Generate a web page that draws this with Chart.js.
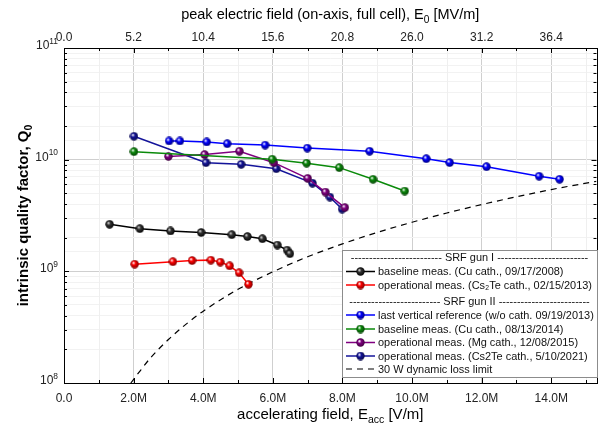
<!DOCTYPE html>
<html>
<head>
<meta charset="utf-8">
<script src="https://cdn.jsdelivr.net/npm/chart.js@4.4.1/dist/chart.umd.min.js"></script>
<style>
  html, body { margin: 0; padding: 0; background: #fff; }
  #wrap { width: 602px; height: 433px; }
</style>
</head>
<body>
<div id="wrap"><canvas id="q0-chart"></canvas></div>
<script>
// accelerating field in MV/m (axis shows it as "M" V/m), Q0
const gun1BaseE = [1.31, 2.18, 3.06, 3.94, 4.82, 5.27, 5.70, 6.13, 6.41, 6.49];
const gun1BaseQ = [2.64e9, 2.41e9, 2.30e9, 2.23e9, 2.13e9, 2.05e9, 1.96e9, 1.72e9, 1.55e9, 1.44e9];
const gun1OperE = [2.03, 3.13, 3.68, 4.22, 4.49, 4.76, 5.03, 5.30];
const gun1OperQ = [1.16e9, 1.22e9, 1.25e9, 1.26e9, 1.21e9, 1.12e9, 9.7e8, 7.66e8];
const gun2VertE = [3.02, 3.33, 4.10, 4.69, 5.78, 6.99, 8.78, 10.41, 11.08, 12.14, 13.65, 14.24];
const gun2VertQ = [1.47e10, 1.47e10, 1.44e10, 1.39e10, 1.35e10, 1.27e10, 1.19e10, 1.02e10, 9.42e9, 8.65e9, 7.11e9, 6.67e9];
const gun2BaseE = [2.01, 5.98, 6.97, 7.91, 8.88, 9.79];
const gun2BaseQ = [1.18e10, 1.01e10, 9.3e9, 8.48e9, 6.67e9, 5.24e9];
const gun2MgE = [3.00, 4.04, 5.04, 6.03, 7.00, 7.51, 8.07];
const gun2MgQ = [1.07e10, 1.11e10, 1.19e10, 9.4e9, 6.8e9, 5.13e9, 3.72e9];
const gun2CsE = [2.01, 4.08, 5.09, 6.10, 7.14, 7.64, 7.99];
const gun2CsQ = [1.62e10, 9.4e9, 9.08e9, 8.3e9, 6.16e9, 4.62e9, 3.61e9];
const lossLimitE = [1.92, 2.2, 2.5, 3, 3.5, 4, 5, 6, 7, 8, 9, 10, 11, 12, 13, 14, 15.3];
const lossLimitQ = [1.0e8, 1.3e8, 1.7e8, 2.45e8, 3.35e8, 4.4e8, 6.9e8, 9.9e8, 1.35e9, 1.76e9, 2.23e9, 2.75e9, 3.33e9, 3.96e9, 4.65e9, 5.4e9, 6.4e9];

const seriesLabels = [
  "baseline meas. (Cu cath., 09/17/2008)",
  "operational meas. (Cs\u2082Te cath., 02/15/2013)",
  "last vertical reference (w/o cath. 09/19/2013)",
  "baseline meas. (Cu cath., 08/13/2014)",
  "operational meas. (Mg cath., 12/08/2015)",
  "operational meas. (Cs2Te cath., 5/10/2021)",
  "30 W dynamic loss limit",
];
const seriesColors = ["#000000", "#ff0000", "#0000ff", "#0a8a0a", "#800080", "#14149a", "#000000"];

const E0_PER_EACC = 2.6; // top axis scale factor
const X_MAX = 15.3;
const FONT = "'Liberation Sans', Arial, sans-serif";

function shade(hex, f) {
  const n = parseInt(hex.slice(1), 16);
  const r = (n >> 16) & 255, g = (n >> 8) & 255, b = n & 255;
  return `rgb(${Math.round(r * f)},${Math.round(g * f)},${Math.round(b * f)})`;
}

// glossy ball marker
function ball(color) {
  const c = document.createElement("canvas");
  c.width = 9; c.height = 9;
  const g = c.getContext("2d");
  const grad = g.createRadialGradient(3.2, 3, 0.3, 4.5, 4.5, 4.6);
  grad.addColorStop(0, color === "#000000" ? "#d0d0d0" : "#ffffff");
  grad.addColorStop(0.35, color === "#000000" ? "#333333" : color);
  grad.addColorStop(1, shade(color, 0.45));
  g.fillStyle = grad;
  g.beginPath();
  g.arc(4.5, 4.5, 4.2, 0, Math.PI * 2);
  g.fill();
  return c;
}

function pts(xs, ys) {
  return xs.map((x, i) => ({ x, y: ys[i] }));
}

const seriesData = [
  pts(gun1BaseE, gun1BaseQ),
  pts(gun1OperE, gun1OperQ),
  pts(gun2VertE, gun2VertQ),
  pts(gun2BaseE, gun2BaseQ),
  pts(gun2MgE, gun2MgQ),
  pts(gun2CsE, gun2CsQ),
];
const markers = seriesColors.slice(0, 6).map(ball);

const datasets = seriesData.map((data, i) => ({
  label: seriesLabels[i],
  data,
  showLine: true,
  borderColor: seriesColors[i],
  borderWidth: 1.5,
  pointStyle: markers[i],
  pointRadius: 4,
  xAxisID: "x",
  yAxisID: "y",
}));
datasets.push({
  label: seriesLabels[6],
  data: pts(lossLimitE, lossLimitQ),
  showLine: true,
  borderColor: "#000",
  borderWidth: 1.2,
  borderDash: [6, 5],
  pointRadius: 0,
  cubicInterpolationMode: "monotone",
  xAxisID: "x",
  yAxisID: "y",
});

// text with sub/superscripts: parts = [[text, mode]] mode 0 normal, 1 sub, -1 sup
function drawRich(ctx, parts, x, y, size, weight, align) {
  const small = size * 0.7;
  let total = 0;
  const widths = parts.map(([t, m]) => {
    ctx.font = `${weight} ${m ? small : size}px ${FONT}`;
    const w = ctx.measureText(t).width;
    total += w;
    return w;
  });
  let cx = align === "right" ? x - total : align === "center" ? x - total / 2 : x;
  ctx.textAlign = "left";
  ctx.textBaseline = "alphabetic";
  parts.forEach(([t, m], i) => {
    ctx.font = `${weight} ${m ? small : size}px ${FONT}`;
    const dy = m === 1 ? size * 0.28 : m === -1 ? -size * 0.45 : 0;
    ctx.fillText(t, cx, y + dy);
    cx += widths[i];
  });
}

const decorPlugin = {
  id: "decor",
  beforeDatasetsDraw(chart) {
    const { ctx, chartArea: a, scales } = chart;
    ctx.save();
    ctx.strokeStyle = "#efefef";
    ctx.lineWidth = 1;
    for (let v = 1; v < X_MAX; v += 2) {
      const px = Math.round(scales.x.getPixelForValue(v)) + 0.5;
      ctx.beginPath(); ctx.moveTo(px, a.top); ctx.lineTo(px, a.bottom); ctx.stroke();
    }
    ctx.restore();
  },
  afterDraw(chart) {
    const { ctx, chartArea: a, scales } = chart;
    ctx.save();
    ctx.fillStyle = "#000";
    ctx.strokeStyle = "#000";
    ctx.lineWidth = 1;

    // frame
    ctx.strokeRect(Math.round(a.left) + 0.5, Math.round(a.top) + 0.5,
      Math.round(a.right - a.left), Math.round(a.bottom - a.top));

    // inward ticks
    ctx.beginPath();
    for (let v = 0; v <= X_MAX; v += 1) {
      const px = Math.round(scales.x.getPixelForValue(v)) + 0.5;
      const len = v % 2 === 0 ? 5 : 3;
      ctx.moveTo(px, a.bottom); ctx.lineTo(px, a.bottom - len);
      ctx.moveTo(px, a.top); ctx.lineTo(px, a.top + len);
    }
    for (let e = 8; e <= 10; e++) {
      for (let m = 1; m <= 9; m++) {
        const py = Math.round(scales.y.getPixelForValue(m * Math.pow(10, e))) + 0.5;
        const len = m === 1 ? 5 : 3;
        ctx.moveTo(a.left, py); ctx.lineTo(a.left + len, py);
        ctx.moveTo(a.right, py); ctx.lineTo(a.right - len, py);
      }
    }
    ctx.stroke();

    // y tick labels 10^n
    ctx.fillStyle = "#222";
    for (let e = 8; e <= 11; e++) {
      const py = scales.y.getPixelForValue(Math.pow(10, e));
      drawRich(ctx, [["10", 0], [String(e), -1]], a.left - 6, py + 1, 12, "normal", "right");
    }

    // axis titles
    ctx.fillStyle = "#000";
    drawRich(ctx, [["accelerating field, E", 0], ["acc", 1], [" [V/m]", 0]],
      (a.left + a.right) / 2, 419, 15, "normal", "center");
    drawRich(ctx, [["peak electric field (on-axis, full cell), E", 0], ["0", 1], [" [MV/m]", 0]],
      (a.left + a.right) / 2, 19, 14.5, "normal", "center");
    ctx.save();
    ctx.translate(28, (a.top + a.bottom) / 2);
    ctx.rotate(-Math.PI / 2);
    drawRich(ctx, [["intrinsic quality factor, Q", 0], ["0", 1]], 0, 0, 15, "bold", "center");
    ctx.restore();

    // legend
    const lx = 342, ly = 250, lw = 255, lh = 127;
    ctx.fillStyle = "#fff";
    ctx.fillRect(lx, ly, lw, lh);
    ctx.strokeStyle = "#8c8c8c";
    ctx.strokeRect(lx + 0.5, ly + 0.5, lw, lh);
    ctx.font = `12px ${FONT}`;
    const fs = 12 * 216 / ctx.measureText(seriesLabels[2]).width;
    ctx.font = `${fs}px ${FONT}`;
    ctx.textBaseline = "middle";
    ctx.fillStyle = "#111";

    const header = (text, y) => {
      const cx = lx + lw / 2;
      const tw = ctx.measureText(" " + text + " ").width;
      const dw = ctx.measureText("-").width;
      const n = Math.floor((lw / 2 - tw / 2 - 6) / dw);
      const dashes = "-".repeat(n);
      ctx.textAlign = "center";
      ctx.fillText(dashes + " " + text + " " + dashes, cx, y);
    };
    const rowY = [271.5, 285, 315, 329, 342.5, 356, 369];
    header("SRF gun I", 257.5);
    header("SRF gun II", 301.5);
    seriesLabels.forEach((label, i) => {
      const y = rowY[i];
      ctx.strokeStyle = seriesColors[i];
      ctx.lineWidth = i === 6 ? 1.2 : 1.5;
      ctx.setLineDash(i === 6 ? [6, 5] : []);
      ctx.beginPath(); ctx.moveTo(346, y); ctx.lineTo(375, y); ctx.stroke();
      ctx.setLineDash([]);
      if (i < 6) ctx.drawImage(markers[i], 356, y - 4.5);
      ctx.textAlign = "left";
      ctx.fillStyle = "#111";
      ctx.fillText(label, 378, y + 0.5);
    });
    ctx.restore();
  },
};

const isDecade = (v) => Math.abs(Math.log10(v) - Math.round(Math.log10(v))) < 1e-6;

new Chart(document.getElementById("q0-chart"), {
  type: "scatter",
  data: { datasets },
  plugins: [decorPlugin],
  options: {
    responsive: true,
    maintainAspectRatio: false,
    animation: false,
    layout: { padding: { left: 0, right: 2, top: 0, bottom: 0 } },
    plugins: { legend: { display: false }, tooltip: { enabled: false } },
    scales: {
      x: {
        type: "linear",
        position: "bottom",
        min: 0,
        max: X_MAX,
        afterFit: (s) => { s.height = 50; },
        border: { display: false },
        grid: { color: "#cfcfcf", drawTicks: false },
        ticks: {
          stepSize: 2,
          includeBounds: false,
          padding: 8,
          color: "#222",
          font: { family: FONT, size: 12 },
          maxRotation: 0,
          callback: (v) => (v === 0 ? "0.0" : `${v.toFixed(1)}M`),
        },
      },
      x2: {
        type: "linear",
        position: "top",
        min: 0,
        max: X_MAX * E0_PER_EACC,
        afterFit: (s) => { s.height = 48; },
        border: { display: false },
        grid: { display: false, drawTicks: false },
        ticks: {
          stepSize: 5.2,
          includeBounds: false,
          padding: 3,
          color: "#222",
          font: { family: FONT, size: 12 },
          maxRotation: 0,
          callback: (v) => v.toFixed(1),
        },
      },
      y: {
        type: "logarithmic",
        min: 1e8,
        max: 1e11,
        afterFit: (s) => { s.width = 64; },
        border: { display: false },
        grid: {
          drawTicks: false,
          color: (c) => (c.tick && isDecade(c.tick.value) ? "#cfcfcf" : "#f2f2f2"),
        },
        ticks: { autoSkip: false, callback: () => "" },
      },
    },
  },
});
</script>
</body>
</html>
